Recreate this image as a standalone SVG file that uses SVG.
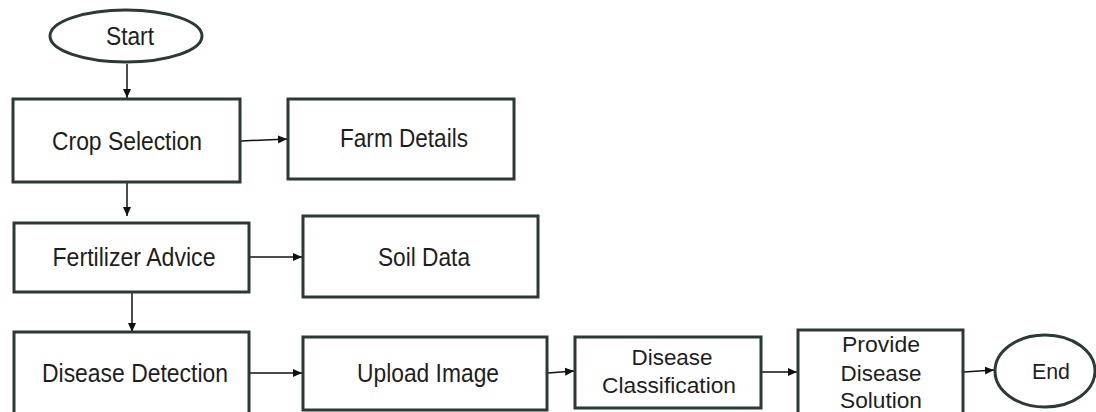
<svg xmlns="http://www.w3.org/2000/svg" width="1096" height="412" viewBox="0 0 1096 412">
  <style>
    .box { fill: #ffffff; stroke: #2b3a33; stroke-width: 3; }
    .lbl { font-family: "Liberation Sans", Arial, sans-serif; font-size: 25px; fill: #1e1e1e; text-anchor: middle; }
    .sm { font-size: 22px; }
    .conn { stroke: #111111; stroke-width: 1.5; fill: none; marker-end: url(#arr); }
  </style>
  <defs>
    <marker id="arr" markerUnits="userSpaceOnUse" markerWidth="10" markerHeight="10" refX="9" refY="5" orient="auto">
      <path d="M0,1 L9,5 L0,9 Z" fill="#111111"/>
    </marker>
  </defs>
  <rect width="1096" height="412" fill="#ffffff"/>

  <g id="connectors">
    <line class="conn" x1="127" y1="64" x2="127" y2="98"/>
    <line class="conn" x1="241" y1="141" x2="287" y2="139"/>
    <line class="conn" x1="127" y1="183" x2="127" y2="216"/>
    <line class="conn" x1="250" y1="257" x2="302" y2="257"/>
    <line class="conn" x1="132" y1="293" x2="132" y2="332"/>
    <line class="conn" x1="250" y1="373" x2="302" y2="373"/>
    <line class="conn" x1="548" y1="373" x2="574" y2="371"/>
    <line class="conn" x1="762" y1="372" x2="797" y2="372"/>
    <line class="conn" x1="964" y1="372" x2="994" y2="370"/>
  </g>

  <g id="start">
    <ellipse class="box" cx="126" cy="36" rx="76" ry="26" stroke-width="2.5"/>
    <text class="lbl" x="130" y="45" textLength="48" lengthAdjust="spacingAndGlyphs">Start</text>
  </g>
  <g id="crop-selection">
    <rect class="box" x="13" y="99" width="227" height="83"/>
    <text class="lbl" x="127" y="150" textLength="150" lengthAdjust="spacingAndGlyphs">Crop Selection</text>
  </g>
  <g id="farm-details">
    <rect class="box" x="288" y="99" width="226" height="80"/>
    <text class="lbl" x="404" y="147" textLength="128" lengthAdjust="spacingAndGlyphs">Farm Details</text>
  </g>
  <g id="fertilizer-advice">
    <rect class="box" x="14" y="223" width="235" height="69"/>
    <text class="lbl" x="134" y="266" textLength="163" lengthAdjust="spacingAndGlyphs">Fertilizer Advice</text>
  </g>
  <g id="soil-data">
    <rect class="box" x="303" y="216" width="235" height="81"/>
    <text class="lbl" x="424" y="266" textLength="92" lengthAdjust="spacingAndGlyphs">Soil Data</text>
  </g>
  <g id="disease-detection">
    <rect class="box" x="14" y="332" width="235" height="84"/>
    <text class="lbl" x="135" y="382" textLength="186" lengthAdjust="spacingAndGlyphs">Disease Detection</text>
  </g>
  <g id="upload-image">
    <rect class="box" x="303" y="337" width="244" height="73"/>
    <text class="lbl" x="428" y="382" textLength="142" lengthAdjust="spacingAndGlyphs">Upload Image</text>
  </g>
  <g id="disease-classification">
    <rect class="box" x="575" y="337" width="186" height="71"/>
    <text class="lbl sm" x="672" y="365" textLength="81" lengthAdjust="spacingAndGlyphs">Disease</text>
    <text class="lbl sm" x="669" y="393" textLength="134" lengthAdjust="spacingAndGlyphs">Classification</text>
  </g>
  <g id="provide-disease-solution">
    <rect class="box" x="798" y="330" width="165" height="84"/>
    <text class="lbl sm" x="881" y="352" textLength="78" lengthAdjust="spacingAndGlyphs">Provide</text>
    <text class="lbl sm" x="881" y="381" textLength="81" lengthAdjust="spacingAndGlyphs">Disease</text>
    <text class="lbl sm" x="881" y="408" textLength="82" lengthAdjust="spacingAndGlyphs">Solution</text>
  </g>
  <g id="end">
    <ellipse class="box" cx="1045" cy="371" rx="50" ry="36" stroke-width="2.5"/>
    <text class="lbl sm" x="1051" y="379" textLength="38" lengthAdjust="spacingAndGlyphs">End</text>
  </g>
</svg>
